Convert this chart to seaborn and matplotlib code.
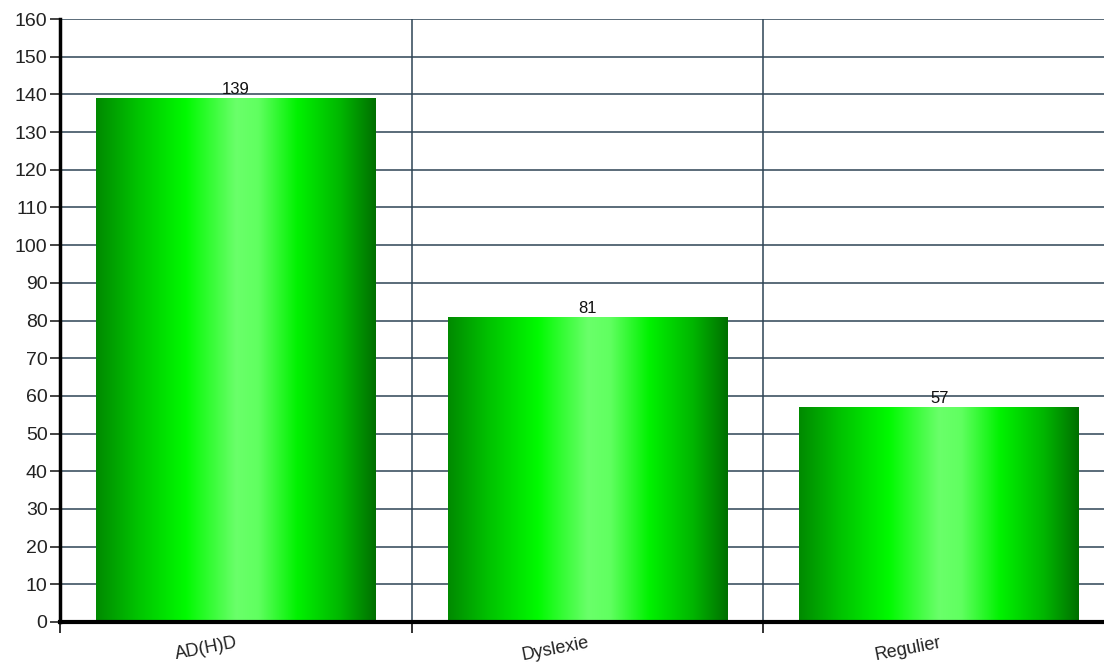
import numpy as np
import pandas as pd
import matplotlib
matplotlib.use("Agg")
import matplotlib.pyplot as plt
from matplotlib.colors import LinearSegmentedColormap
import seaborn as sns

categories = ["AD(H)D", "Dyslexie", "Regulier"]
values = [139, 81, 57]
yticks = list(range(0, 161, 10))

sns.set_theme(style="white")
plt.rcParams['font.family'] = ['Liberation Sans', 'DejaVu Sans']

W, H = 1104, 666
fig = plt.figure(figsize=(W / 100, H / 100), dpi=100)
fig.patch.set_facecolor("white")
left_px, right_px, top_px, bot_px = 60, 1115, 19, 622
ax = fig.add_axes([left_px / W, (H - bot_px) / H, (right_px - left_px) / W, (bot_px - top_px) / H])
ax.set_facecolor("white")

df = pd.DataFrame({"cat": categories, "val": values})
sns.barplot(data=df, x="cat", y="val", color="#00ee00", width=0.795, ax=ax, zorder=3,
            saturation=1, edgecolor="none")

grad_cmap = LinearSegmentedColormap.from_list("g", [
    (0.00, "#008a00"),
    (0.15, "#00c400"),
    (0.32, "#00fa00"),
    (0.50, "#6aff6a"),
    (0.58, "#60ff60"),
    (0.72, "#00f200"),
    (0.88, "#00b400"),
    (1.00, "#007000"),
])
grad = np.linspace(0, 1, 256).reshape(1, -1)
for p in list(ax.patches):
    x, y = p.get_x(), p.get_y()
    w, h = p.get_width(), p.get_height()
    im = ax.imshow(grad, extent=[x, x + w, y, y + h], aspect="auto", cmap=grad_cmap,
                   zorder=4, interpolation="bilinear")
    im.set_clip_path(p)
    ax.text(x + w / 2, h + 0.3, f"{int(round(h))}", ha="center", va="bottom",
            fontsize=12, color="#111111", zorder=6)

ax.set_xlim(-0.5, 2.5)
ax.set_ylim(0, 160)
ax.set_yticks(yticks)
ax.set_yticklabels([str(t) for t in yticks], fontsize=14, color="#222222")

gridc = "#2e4455"
for t in yticks[1:]:
    ax.axhline(t, color=gridc, lw=1.1, zorder=1)
for xv in [0.5, 1.5]:
    ax.axvline(xv, color=gridc, lw=1.1, zorder=1)

ax.set_xticks(range(len(categories)))
ax.set_xticklabels(categories, rotation=11, ha="right", rotation_mode="anchor",
                   fontsize=13, color="#222222")
ax.set_xticks([-0.5, 0.5, 1.5, 2.5], minor=True)
ax.tick_params(axis="x", which="major", length=0, pad=9, bottom=True)
ax.tick_params(axis="x", which="minor", length=8, width=1.3, color="#222222",
               direction="out", bottom=True)
ax.tick_params(axis="y", length=7, width=1.2, color="#222222", direction="out", pad=2, left=True)

for s in ["top", "right"]:
    ax.spines[s].set_visible(False)
ax.spines["left"].set_linewidth(2.5)
ax.spines["left"].set_color("black")
ax.spines["bottom"].set_linewidth(3)
ax.spines["bottom"].set_color("black")
ax.spines["left"].set_zorder(7)
ax.spines["bottom"].set_zorder(7)
ax.set_xlabel("")
ax.set_ylabel("")

fig.savefig("out.png", dpi=100, facecolor="white")
